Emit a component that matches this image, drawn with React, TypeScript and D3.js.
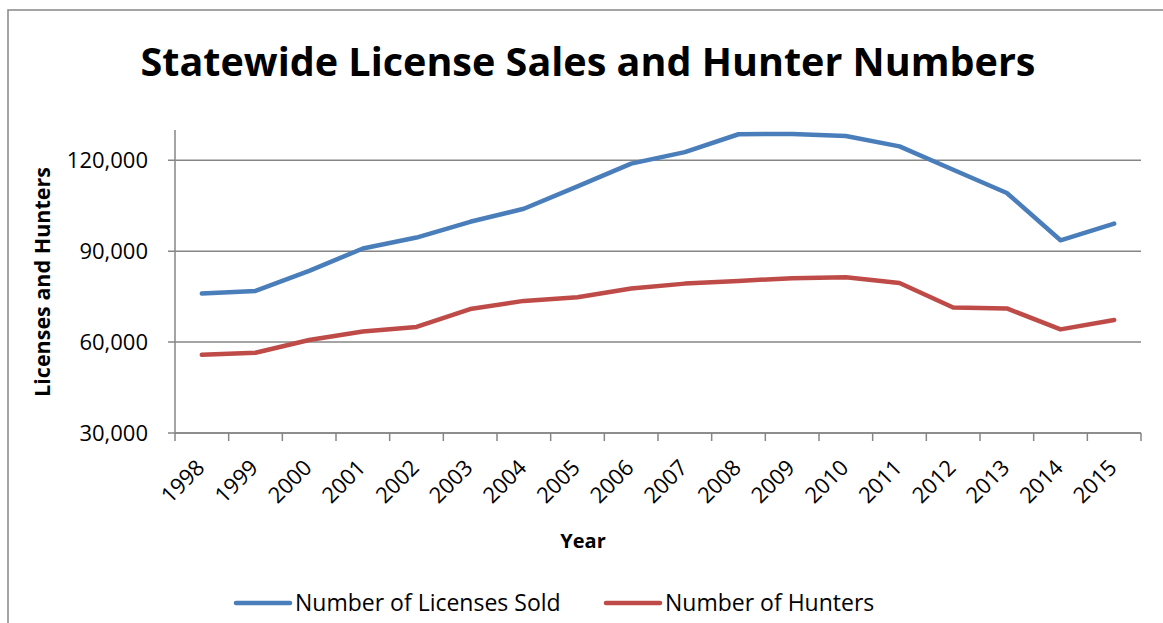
import React from "react";
import * as d3 from "d3";

const width = 1163;
const height = 623;
const margin = { top: 130, right: 22, bottom: 190, left: 175 };

const years = [
  "1998", "1999", "2000", "2001", "2002", "2003", "2004", "2005", "2006",
  "2007", "2008", "2009", "2010", "2011", "2012", "2013", "2014", "2015",
];
const licensesSold = [
  76000, 76900, 83500, 90900, 94500, 99700, 104000, 111400, 118900,
  122700, 128600, 128700, 128000, 124600, 116900, 109200, 93600, 99100,
];
const hunters = [
  55800, 56500, 60700, 63500, 65000, 70900, 73600, 74800, 77700,
  79300, 80200, 81100, 81400, 79500, 71400, 71100, 64200, 67300,
];
const yTicks = [30000, 60000, 90000, 120000];

const series = [
  { name: "Number of Licenses Sold", values: licensesSold, color: "#4A7EBB" },
  { name: "Number of Hunters", values: hunters, color: "#BE4B48" },
];

const font = "'Open Sans', 'Noto Sans', sans-serif";
const gray = "#868686";

export default function App() {
  const x = d3.scaleBand()
    .domain(years)
    .range([margin.left, width - margin.right])
    .padding(0);
  const y = d3.scaleLinear()
    .domain([30000, 130000])
    .range([height - margin.bottom, margin.top]);

  const line = d3.line<number>()
    .x((_, i) => (x(years[i]) ?? 0) + x.bandwidth() / 2)
    .y(d => y(d));

  const fmt = d3.format(",");
  const bottom = y(30000);
  const bounds = [...years.map(c => x(c) ?? 0), width - margin.right];

  return (
    <svg width={width} height={height}
      style={{ position: "absolute", left: 0, top: 0, background: "#fff" }}>
      {/* chart frame, cut off at the right and bottom */}
      <rect x={8} y={10} width={1200} height={700} fill="#fff" stroke={gray} strokeWidth={1.5} />

      <text x={588} y={76} textAnchor="middle" fontFamily={font} fontWeight="bold"
        fontSize={40} textLength={895} lengthAdjust="spacingAndGlyphs">
        Statewide License Sales and Hunter Numbers
      </text>

      {/* gridlines */}
      {yTicks.map(t => (
        <g key={t}>
          <line x1={margin.left - 7} x2={width - margin.right} y1={y(t)} y2={y(t)}
            stroke={gray} strokeWidth={1.5} />
          <text x={148} y={y(t)} dy="0.36em" textAnchor="end" fontFamily={font}
            fontSize={22} fill="#000">
            {fmt(t)}
          </text>
        </g>
      ))}

      {/* axes */}
      <line x1={margin.left} x2={margin.left} y1={margin.top} y2={bottom} stroke={gray} strokeWidth={1.5} />
      <line x1={margin.left} x2={width - margin.right} y1={bottom} y2={bottom} stroke={gray} strokeWidth={1.5} />
      {bounds.map((b, i) => (
        <line key={i} x1={b} x2={b} y1={bottom} y2={bottom + 8} stroke={gray} strokeWidth={1.5} />
      ))}
      {years.map(c => {
        const cx = (x(c) ?? 0) + x.bandwidth() / 2;
        return (
          <text key={c} transform={`translate(${cx + 4},${bottom + 36}) rotate(-45)`}
            textAnchor="end" fontFamily={font} fontSize={22} fill="#000">
            {c}
          </text>
        );
      })}

      <text x={583} y={548} textAnchor="middle" fontFamily={font} fontWeight="bold" fontSize={20}>
        Year
      </text>
      <text transform={`translate(50,282) rotate(-90)`} textAnchor="middle" fontFamily={font}
        fontWeight="bold" fontSize={21.5}>
        Licenses and Hunters
      </text>

      {/* series */}
      {series.map(s => (
        <path key={s.name} d={line(s.values) ?? ""} fill="none" stroke={s.color}
          strokeWidth={4.5} strokeLinejoin="round" strokeLinecap="round" />
      ))}

      {/* legend */}
      {series.map((s, i) => {
        const lx = i === 0 ? 236 : 606;
        return (
          <g key={s.name}>
            <line x1={lx} x2={lx + 54} y1={603} y2={603} stroke={s.color} strokeWidth={4.5} strokeLinecap="round" />
            <text x={lx + 59} y={611} fontFamily={font} fontSize={23} fill="#000">
              {s.name}
            </text>
          </g>
        );
      })}
    </svg>
  );
}
